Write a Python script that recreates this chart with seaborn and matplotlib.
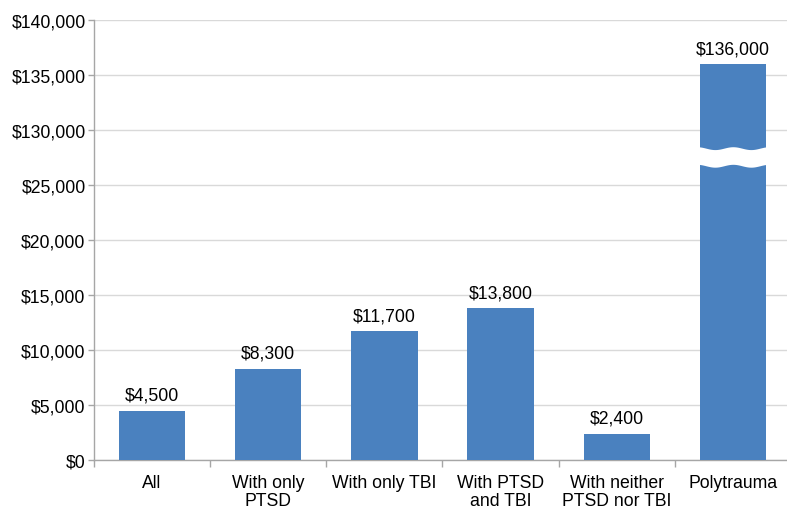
import numpy as np
import pandas as pd
import matplotlib
matplotlib.use("Agg")
import matplotlib.pyplot as plt
import seaborn as sns

categories = ["All", "With only\nPTSD", "With only TBI", "With PTSD\nand TBI",
              "With neither\nPTSD nor TBI", "Polytrauma"]
costs = [4500, 8300, 11700, 13800, 2400, 136000]
tick_values = [0, 5000, 10000, 15000, 20000, 25000, 130000, 135000, 140000]
tick_labels = ["$0", "$5,000", "$10,000", "$15,000", "$20,000", "$25,000",
               "$130,000", "$135,000", "$140,000"]

# Broken axis: 0-25k linear, 25k-130k squeezed into one tick step, 130k+ linear
LOW, HIGH, GAP = 25000.0, 130000.0, 5000.0


def forward(v):
    v = np.asarray(v, dtype=float)
    mid = LOW + (v - LOW) * GAP / (HIGH - LOW)
    return np.where(v <= LOW, v, np.where(v >= HIGH, v - (HIGH - LOW) + GAP, mid))


def inverse(p):
    p = np.asarray(p, dtype=float)
    mid = LOW + (p - LOW) * (HIGH - LOW) / GAP
    return np.where(p <= LOW, p, np.where(p >= LOW + GAP, p + (HIGH - LOW) - GAP, mid))


sns.set_theme(style="white")
plt.rcParams["font.family"] = ["Liberation Sans", "DejaVu Sans"]

df = pd.DataFrame({"group": categories, "cost": costs})

fig = plt.figure(figsize=(7.87, 5.10), dpi=100)
ax = fig.add_axes([94 / 787, 1 - 461 / 510, (791 - 94) / 787, (461 - 21) / 510])
ax.set_yscale("function", functions=(forward, inverse))

bar_color = "#4A81BF"
sns.barplot(data=df, x="group", y="cost", color=bar_color, width=0.57,
            saturation=1, linewidth=0, ax=ax, zorder=3)

ax.set_ylim(0, 140000)
ax.set_xlim(-0.5, len(categories) - 0.5)
ax.set_yticks(tick_values)
ax.set_yticklabels(tick_labels)
ax.yaxis.set_minor_locator(matplotlib.ticker.NullLocator())
ax.set_xlabel("")
ax.set_ylabel("")

ax.grid(axis="y", color="#d9d9d9", linewidth=1, zorder=0)
ax.set_axisbelow(True)
for side in ["top", "right"]:
    ax.spines[side].set_visible(False)
for side in ["left", "bottom"]:
    ax.spines[side].set_color("#a6a6a6")
    ax.spines[side].set_linewidth(1)

ax.tick_params(axis="y", which="major", left=True, length=4, color="#a6a6a6",
               width=1, labelsize=12.7, labelcolor="black", pad=2)
ax.tick_params(axis="x", which="major", bottom=False, labelsize=12.7,
               labelcolor="black", pad=4)
for lbl in ax.get_xticklabels():
    lbl.set_linespacing(1.1)
# category boundary ticks on the x axis
ax.set_xticks(np.arange(-0.5, len(categories), 1.0), minor=True)
ax.tick_params(axis="x", which="minor", bottom=True, length=5, color="#a6a6a6", width=1)

# value labels above each bar
for i, v in enumerate(costs):
    ax.annotate(f"${v:,}", (i, v), xytext=(0, 5), textcoords="offset points",
                ha="center", va="bottom", fontsize=12.7, color="black")

# wavy white gap across the tall bar marking the axis break
idx = len(costs) - 1
x0, x1 = idx - 0.31, idx + 0.31
xs = np.linspace(x0, x1, 300)
wave = 130 * np.sin((xs - x0) / (x1 - x0) * 4 * np.pi + np.pi / 2)
upper = inverse(28350 + wave)
lower = inverse(26750 + wave)
ax.fill_between(xs, lower, upper, color="white", zorder=4, linewidth=0)

fig.savefig("out.png", dpi=100)
